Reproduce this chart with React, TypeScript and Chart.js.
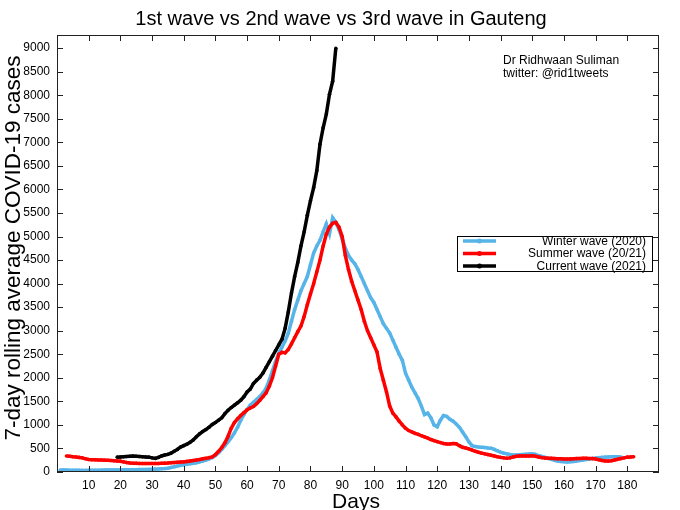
import React, { useEffect, useRef } from "react";
import { Chart, registerables } from "chart.js";

Chart.register(...registerables);

const FONT = '"Liberation Sans", Arial, Helvetica, sans-serif';

const chartTitle = "1st wave vs 2nd wave vs 3rd wave in Gauteng";
const xAxisTitle = "Days";
const yAxisTitle = "7-day rolling average COVID-19 cases";
const noteLines = ["Dr Ridhwaan Suliman", "twitter: @rid1tweets"];

const xTickValues = [10, 20, 30, 40, 50, 60, 70, 80, 90, 100, 110, 120, 130, 140, 150, 160, 170, 180];
const yTickValues = [0, 500, 1000, 1500, 2000, 2500, 3000, 3500, 4000, 4500, 5000, 5500, 6000, 6500, 7000, 7500, 8000, 8500, 9000];

const seriesNames = ["Winter wave (2020)", "Summer wave (20/21)", "Current wave (2021)"];
const seriesColors = ["#56B4E9", "#FF0000", "#000000"];

// Winter wave (2020): days 1..178
const winterStartDay = 1;
const winterValues = [
  42, 41, 40, 38, 37, 36, 35, 34, 34, 35,
  36, 37, 38, 39, 40, 41, 42, 43, 44, 45,
  46, 47, 48, 49, 50, 51, 52, 53, 55, 57,
  60, 63, 67, 72, 80, 95, 110, 125, 140, 155,
  165, 175, 185, 198, 215, 232, 252, 278, 310, 350,
  410, 480, 560, 640, 730, 830, 950, 1100, 1220, 1330,
  1420, 1480, 1540, 1600, 1680, 1780, 1950, 2150, 2350, 2520,
  2650, 2780, 2950, 3200, 3450, 3650, 3850, 4000, 4150, 4400,
  4650, 4800, 4920, 5100, 5270, 5060, 5400, 5300, 5150, 4950,
  4750, 4600, 4500, 4420, 4300, 4150, 4000, 3850, 3700, 3600,
  3450, 3300, 3150, 3050, 2950, 2800, 2650, 2500, 2370, 2100,
  1950, 1800, 1680, 1560, 1400, 1220, 1250, 1150, 1000, 960,
  1100, 1200, 1180, 1120, 1080, 1020, 950, 850, 750, 640,
  560, 540, 530, 525, 520, 510, 505, 480, 450, 420,
  400, 385, 370, 360, 360, 365, 370, 375, 380, 385,
  375, 350, 330, 310, 290, 270, 250, 235, 222, 218,
  215, 218, 225, 235, 245, 255, 265, 275, 285, 295,
  305, 310, 315, 320, 322, 325, 325, 320,
];

// Summer wave (20/21): days 3..182
const summerStartDay = 3;
const summerValues = [
  340, 335, 325, 320, 310, 300, 280, 265, 260, 258,
  255, 255, 252, 250, 245, 240, 235, 230, 215, 200,
  190, 185, 184, 182, 180, 180, 180, 180, 180, 182,
  185, 188, 190, 195, 200, 205, 210, 215, 225, 235,
  245, 255, 265, 280, 290, 305, 320, 370, 440, 520,
  620, 760, 930, 1050, 1130, 1200, 1260, 1320, 1360, 1390,
  1450, 1520, 1600, 1680, 1820, 2000, 2250, 2500, 2540, 2530,
  2600, 2720, 2850, 2980, 3100, 3300, 3550, 3780, 4000, 4250,
  4500, 4800, 5050, 5200, 5280, 5300, 5200, 5000, 4600, 4300,
  4050, 3850, 3650, 3450, 3200, 3000, 2850, 2700, 2550, 2200,
  1950, 1700, 1400, 1250, 1170, 1080, 1000, 930, 880, 850,
  820, 800, 770, 745, 720, 690, 665, 645, 625, 605,
  595, 595, 605, 600, 560, 525, 510, 490, 465, 440,
  420, 400, 385, 370, 355, 340, 325, 310, 300, 292,
  300, 320, 335, 340, 340, 338, 340, 345, 335, 320,
  305, 295, 290, 290, 285, 280, 280, 275, 275, 278,
  282, 285, 288, 290, 290, 288, 285, 275, 260, 245,
  235, 232, 240, 255, 270, 285, 300, 315, 320, 325,
];

// Current wave (2021): days 19..88
const currentStartDay = 19;
const currentValues = [
  315, 320, 325, 330, 335, 340, 335, 330, 325, 320,
  315, 300, 290, 310, 340, 360, 375, 400, 440, 480,
  530, 560, 590, 630, 680, 750, 810, 860, 900, 950,
  1010, 1050, 1100, 1150, 1240, 1310, 1370, 1420, 1470, 1525,
  1600, 1700, 1760, 1880, 1950, 2010, 2100, 2220, 2340, 2460,
  2580, 2700, 2820, 3050, 3400, 3800, 4150, 4450, 4800, 5100,
  5450, 5760, 6040, 6400, 6960, 7310, 7600, 8020, 8300, 9000,
];

const toPoints = (start: number, values: number[]) =>
  values.map((v, i) => ({ x: start + i, y: v }));

const decorPlugin = {
  id: "decor",
  afterDraw(chart: any) {
    const { ctx, chartArea: a, scales } = chart;
    const xs = scales.x;
    const ys = scales.y;
    ctx.save();
    // frame
    ctx.strokeStyle = "#222";
    ctx.lineWidth = 1;
    ctx.strokeRect(a.left + 0.5, a.top + 0.5, a.right - a.left - 1, a.bottom - a.top - 1);
    // inward ticks, mirrored
    ctx.beginPath();
    for (const v of xTickValues) {
      const px = Math.round(xs.getPixelForValue(v)) + 0.5;
      ctx.moveTo(px, a.bottom);
      ctx.lineTo(px, a.bottom - 6);
      ctx.moveTo(px, a.top);
      ctx.lineTo(px, a.top + 6);
    }
    for (const v of yTickValues) {
      const py = Math.round(ys.getPixelForValue(v)) + 0.5;
      ctx.moveTo(a.left, py);
      ctx.lineTo(a.left + 6, py);
      ctx.moveTo(a.right, py);
      ctx.lineTo(a.right - 6, py);
    }
    ctx.stroke();

    ctx.fillStyle = "#000";
    // title
    ctx.font = `20px ${FONT}`;
    ctx.textAlign = "center";
    ctx.textBaseline = "alphabetic";
    ctx.fillText(chartTitle, 341, 25);
    // x axis title
    ctx.font = `21px ${FONT}`;
    ctx.fillText(xAxisTitle, 356, 508);
    // y axis title
    ctx.save();
    ctx.translate(20, 248);
    ctx.rotate(-Math.PI / 2);
    ctx.font = `22.5px ${FONT}`;
    ctx.fillText(yAxisTitle, 0, 0);
    ctx.restore();
    // note
    ctx.font = `12px ${FONT}`;
    ctx.textAlign = "left";
    ctx.fillText(noteLines[0], 503, 64);
    ctx.fillText(noteLines[1], 503, 77);

    // legend
    const bx = 457, by = 236, bw = 195, bh = 35;
    ctx.fillStyle = "#fff";
    ctx.fillRect(bx, by, bw, bh);
    ctx.strokeStyle = "#000";
    ctx.lineWidth = 1;
    ctx.strokeRect(bx + 0.5, by + 0.5, bw, bh);
    const rows = [241, 253.5, 266];
    ctx.font = `12px ${FONT}`;
    ctx.textAlign = "right";
    ctx.textBaseline = "middle";
    seriesNames.forEach((name, i) => {
      const y = rows[i];
      ctx.strokeStyle = seriesColors[i];
      ctx.lineWidth = 3.5;
      ctx.beginPath();
      ctx.moveTo(463, y);
      ctx.lineTo(496, y);
      ctx.stroke();
      ctx.fillStyle = seriesColors[i];
      ctx.beginPath();
      ctx.arc(479.5, y, 2.5, 0, Math.PI * 2);
      ctx.fill();
      ctx.fillStyle = "#000";
      ctx.fillText(name, 646, y + 0.5);
    });
    ctx.restore();
  },
};

export default function App() {
  const canvasRef = useRef<HTMLCanvasElement | null>(null);

  useEffect(() => {
    const canvas = canvasRef.current;
    if (!canvas) return;
    const seriesData = [
      toPoints(winterStartDay, winterValues),
      toPoints(summerStartDay, summerValues),
      toPoints(currentStartDay, currentValues),
    ];
    const orders = [2, 1, 0];
    const chart = new Chart(canvas, {
      type: "line",
      data: {
        datasets: seriesNames.map((name, i) => ({
          label: name,
          data: seriesData[i],
          borderColor: seriesColors[i],
          backgroundColor: seriesColors[i],
          borderWidth: 3.5,
          pointRadius: 1.8,
          pointBorderWidth: 0,
          pointHoverRadius: 1.8,
          tension: 0,
          fill: false,
          order: orders[i],
        })),
      },
      options: {
        responsive: false,
        animation: false,
        events: [],
        layout: { padding: { top: 35, right: 21, left: 0, bottom: 0 } },
        plugins: {
          legend: { display: false },
          tooltip: { enabled: false },
          title: { display: false },
        },
        scales: {
          x: {
            type: "linear",
            min: 0,
            max: 190,
            grid: { display: false, drawTicks: false },
            border: { display: false },
            ticks: {
              color: "#000",
              font: { family: FONT, size: 12 },
              padding: 6,
              maxRotation: 0,
              autoSkip: false,
              callback: (v: any) => String(v),
            },
            afterBuildTicks: (scale: any) => {
              scale.ticks = xTickValues.map((v) => ({ value: v }));
            },
            afterFit: (scale: any) => {
              scale.height = 38;
            },
          },
          y: {
            type: "linear",
            min: 0,
            max: 9280,
            grid: { display: false, drawTicks: false },
            border: { display: false },
            ticks: {
              color: "#000",
              font: { family: FONT, size: 12 },
              padding: 7,
              autoSkip: false,
              callback: (v: any) => String(v),
            },
            afterBuildTicks: (scale: any) => {
              scale.ticks = yTickValues.map((v) => ({ value: v }));
            },
            afterFit: (scale: any) => {
              scale.width = 57;
            },
          },
        },
      },
      plugins: [decorPlugin],
    });
    return () => chart.destroy();
  }, []);

  return (
    <div style={{ position: "fixed", left: 0, top: 0, width: 680, height: 510, background: "#fff" }}>
      <canvas ref={canvasRef} width={680} height={510} style={{ width: 680, height: 510 }} />
    </div>
  );
}
